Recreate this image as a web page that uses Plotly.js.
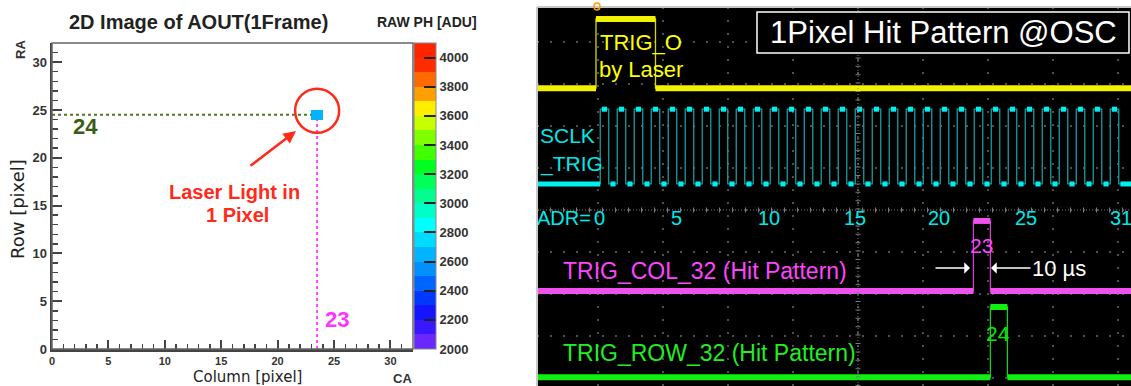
<!DOCTYPE html>
<html><head><meta charset="utf-8">
<script src="https://cdn.plot.ly/plotly-3.0.1.min.js"></script>
<style>html,body{margin:0;padding:0;background:#fff;}#chart{width:1131px;height:386px;}</style>
</head><body><div id="chart"></div>
<script>
// ================= LEFT PANEL DATA (2D image of AOUT, 1 frame) =================
const nCols = 32;
const nRows = 32;
const hitCols = [23];
const hitRows = [24];
const hitPH = [2650];
const axisTickVals = [0, 5, 10, 15, 20, 25, 30];
const phTickVals = [2000, 2200, 2400, 2600, 2800, 3000, 3200, 3400, 3600, 3800, 4000];
const phMin = 2000;
const phMax = 4100;
// palette bands (100 ADU each, 2000 -> 4100)
const bandColors = ['#6a28ff', '#3a18ff', '#1414ff', '#0038ff', '#0064ff', '#0090ff', '#00b4ff',
  '#00dcff', '#00ffff', '#00ffc8', '#00ff90', '#00ff58', '#00ff20', '#40ff00', '#80ff00', '#c8ff00',
  '#ffee00', '#ffa000', '#ff6a00', '#ff2c00', '#ff2400'];

// ================= RIGHT PANEL DATA (oscilloscope, time in µs, level in div) =================
const trigORise = [0];
const trigOFall = [35];
const sclkRise = [2.5, 12.5, 22.5, 32.5, 42.5, 52.5, 62.5, 72.5, 82.5, 92.5, 102.5, 112.5, 122.5, 132.5, 142.5, 152.5,
  162.5, 172.5, 182.5, 192.5, 202.5, 212.5, 222.5, 232.5, 242.5, 252.5, 262.5, 272.5, 282.5, 292.5, 302.5];
const sclkFall = [7.5, 17.5, 27.5, 37.5, 47.5, 57.5, 67.5, 77.5, 87.5, 97.5, 107.5, 117.5, 127.5, 137.5, 147.5, 157.5,
  167.5, 177.5, 187.5, 197.5, 207.5, 217.5, 227.5, 237.5, 247.5, 257.5, 267.5, 277.5, 287.5, 297.5, 307.5];
const colRise = [222];
const colFall = [232];
const rowRise = [232];
const rowFall = [242];
const trigOLevels = [2.9, 4.55];
const sclkLevels = [0.62, 2.4];
const colLevels = [-1.93, -0.26];
const rowLevels = [-3.98, -2.31];
const adrLabels = ['0', '5', '10', '15', '20', '25', '31'];
const adrLabelTimes = [1.8, 47.6, 101.8, 152.4, 201.8, 252.9, 308.8];
const hitColLabel = '23';
const hitRowLabel = '24';

// ================= helpers =================
const W = 1131, H = 386;
const px = x => x / W;
const py = y => 1 - y / H;
const tRange = [-34.7, 314.7];
const FONT = 'Liberation Sans, Arial, sans-serif';
const WIDEFONT = 'DejaVu Sans, Verdana, sans-serif';
const plotBottom = 349;

// heatmap grid
const z = [];
for (let r = 0; r < nRows; r++) { const row = []; for (let c = 0; c < nCols; c++) row.push(null); z.push(row); }
hitCols.forEach((c, i) => { z[hitRows[i]][c] = hitPH[i]; });

const colorscale = [];
bandColors.forEach((c, i) => { colorscale.push([i / bandColors.length, c]); colorscale.push([(i + 1) / bandColors.length, c]); });

function stepWave(rises, falls, lv) {
  const x = [tRange[0]], y = [lv[0]];
  rises.forEach((r, i) => { x.push(r, r, falls[i], falls[i]); y.push(lv[0], lv[1], lv[1], lv[0]); });
  x.push(tRange[1]); y.push(lv[0]);
  return {x, y};
}
function flats(rises, falls, lv, inset) {
  const x = [], y = [];
  let prev = tRange[0];
  rises.forEach((r, i) => {
    x.push(i === 0 ? prev : prev + inset, r - (i === 0 ? 0 : inset), null); y.push(lv[0], lv[0], null);
    x.push(r + inset, falls[i] - inset, null); y.push(lv[1], lv[1], null);
    prev = falls[i];
  });
  x.push(prev + (rises.length > 1 ? inset : 0), tRange[1]); y.push(lv[0], lv[0]);
  return {x, y};
}
function scopeTraces(rises, falls, lv, thinColor, thickColor, thickW, inset) {
  const a = stepWave(rises, falls, lv), b = flats(rises, falls, lv, inset);
  return [
    {type: 'scatter', mode: 'lines', x: a.x, y: a.y, xaxis: 'x2', yaxis: 'y2', line: {color: thinColor, width: 1.3}, hoverinfo: 'skip'},
    {type: 'scatter', mode: 'lines', x: b.x, y: b.y, xaxis: 'x2', yaxis: 'y2', line: {color: thickColor, width: thickW}, hoverinfo: 'skip'}
  ];
}

const traces = [];
// left: guide lines to the hit pixel
traces.push({type: 'scatter', mode: 'lines', x: [0, hitCols[0]], y: [hitRows[0] + 0.5, hitRows[0] + 0.5],
  line: {color: '#4a7a22', width: 2, dash: 'dot'}, hoverinfo: 'skip'});
traces.push({type: 'scatter', mode: 'lines', x: [hitCols[0] + 0.5, hitCols[0] + 0.5], y: [0, hitRows[0]],
  line: {color: '#ff44ff', width: 2, dash: 'dot'}, hoverinfo: 'skip'});
traces.push({
  type: 'heatmap', z: z, x0: 0.5, dx: 1, y0: 0.5, dy: 1, zmin: phMin, zmax: phMax, colorscale: colorscale,
  hoverinfo: 'skip', xgap: 0, ygap: 0,
  colorbar: {
    xref: 'paper', x: px(414), xanchor: 'left', xpad: 0, ypad: 0,
    yref: 'paper', y: (py(43) + py(plotBottom)) / 2, yanchor: 'middle', lenmode: 'fraction', len: py(43) - py(plotBottom),
    thicknessmode: 'pixels', thickness: 22, outlinewidth: 1, outlinecolor: '#888',
    tickmode: 'array', tickvals: phTickVals, ticks: 'inside', ticklen: 12, tickwidth: 2, tickcolor: '#222',
    tickfont: {family: FONT, size: 13, color: '#333', weight: 'bold'}
  }
});
// right: oscilloscope channels
traces.push(...scopeTraces(trigORise, trigOFall, trigOLevels, '#d8d800', '#f2f200', 6, 0));
traces.push(...scopeTraces(sclkRise, sclkFall, sclkLevels, '#1a9c9c', '#00f0f0', 5, 1));
traces.push(...scopeTraces(colRise, colFall, colLevels, '#cc44cc', '#f050f0', 6, 0));
traces.push(...scopeTraces(rowRise, rowFall, rowLevels, '#22cc22', '#10f010', 6, 0));

function ann(text, x, y, o) {
  return Object.assign({text: text, x: px(x), y: py(y), xref: 'paper', yref: 'paper', showarrow: false,
    xanchor: 'center', yanchor: 'middle', font: {family: FONT, size: 12, color: '#222'}}, o || {});
}

const annotations = [
  ann('2D Image of AOUT(1Frame)', 198, 22, {font: {family: FONT, size: 20, color: '#222', weight: 'bold'}}),
  ann('RAW PH [ADU]', 427, 22, {font: {family: FONT, size: 14, color: '#222', weight: 'bold'}}),
  ann('RA', 20, 50, {textangle: -90, font: {family: FONT, size: 13, color: '#333', weight: 'bold'}}),
  ann('CA', 402, 378, {font: {family: FONT, size: 13, color: '#333', weight: 'bold'}}),
  ann('Row [pixel]', 17, 209, {textangle: -90, font: {family: WIDEFONT, size: 18, color: '#222'}}),
  ann('Column [pixel]', 247, 387, {yanchor: 'bottom', borderpad: 0, font: {family: WIDEFONT, size: 15, color: '#222'}}),
  ann('Laser Light in', 234, 192, {font: {family: FONT, size: 20, color: '#ff2a1a', weight: 'bold'}}),
  ann('1 Pixel', 237, 215, {font: {family: FONT, size: 20, color: '#ff2a1a', weight: 'bold'}}),
  ann(hitRowLabel, 85, 126, {font: {family: FONT, size: 22, color: '#3a5e14', weight: 'bold'}}),
  ann(hitColLabel, 337, 319, {font: {family: FONT, size: 22, color: '#ff33ff', weight: 'bold'}}),
  {text: '', x: px(296), y: py(131), xref: 'paper', yref: 'paper', showarrow: true, ax: -47, ay: 36,
    arrowcolor: '#ff2a1a', arrowwidth: 2.5, arrowhead: 2, arrowsize: 1, standoff: 0},
  // oscilloscope texts
  ann('1Pixel Hit Pattern @OSC', 943, 33, {font: {family: FONT, size: 31, color: '#ffffff'}}),
  ann('TRIG_O', 598, 43, {xanchor: 'left', font: {family: FONT, size: 22, color: '#ffff00'}}),
  ann('by Laser', 597, 70, {xanchor: 'left', font: {family: FONT, size: 22, color: '#ffff00'}}),
  ann('SCLK', 538, 135, {xanchor: 'left', font: {family: FONT, size: 21, color: '#00e8e8'}}),
  ann('_TRIG', 538, 164, {xanchor: 'left', font: {family: FONT, size: 21, color: '#00e8e8'}}),
  ann('ADR=', 593, 218, {xanchor: 'right', font: {family: FONT, size: 20, color: '#00e8e8'}}),
  ann('TRIG_COL_32 (Hit Pattern)', 561, 271, {xanchor: 'left', font: {family: FONT, size: 23, color: '#ff44ff'}}),
  ann('TRIG_ROW_32 (Hit Pattern)', 561, 353, {xanchor: 'left', font: {family: FONT, size: 23, color: '#22ee22'}}),
  ann(hitColLabel, 982, 245, {font: {family: FONT, size: 21, color: '#ff44ff'}}),
  ann(hitRowLabel, 998, 333, {font: {family: FONT, size: 21, color: '#00ee00'}}),
  ann('10 µs', 1059, 268, {font: {family: FONT, size: 22, color: '#ffffff'}}),
  {text: '', x: px(970), y: py(268), xref: 'paper', yref: 'paper', showarrow: true, ax: -36, ay: 0,
    arrowcolor: '#ffffff', arrowwidth: 1.6, arrowhead: 1, arrowsize: 1.2, standoff: 0},
  {text: '', x: px(991), y: py(268), xref: 'paper', yref: 'paper', showarrow: true, ax: 41, ay: 0,
    arrowcolor: '#ffffff', arrowwidth: 1.6, arrowhead: 1, arrowsize: 1.2, standoff: 0}
];
adrLabels.forEach((lab, i) => {
  annotations.push({text: lab, x: adrLabelTimes[i], y: py(218), xref: 'x2', yref: 'paper', showarrow: false,
    xanchor: 'center', yanchor: 'middle', font: {family: FONT, size: 20, color: '#00e8e8'}});
});

const scopeTop = py(7);
const centerT = (858 - 596) / 1.7;
const shapes = [
  {type: 'rect', xref: 'paper', yref: 'paper', x0: px(537), x1: 1, y0: 0, y1: scopeTop, fillcolor: '#000', line: {width: 0}, layer: 'below'},
  // center cross of scope graticule
  {type: 'line', xref: 'paper', yref: 'y2', x0: px(537), x1: 1, y0: 0, y1: 0, line: {color: '#7a7a7a', width: 1, dash: '1px,2px'}},
  {type: 'line', xref: 'paper', yref: 'y2', x0: px(537), x1: 1, y0: 0, y1: 0, line: {color: '#7a7a7a', width: 5, dash: '1px,12px'}},
  {type: 'line', xref: 'x2', yref: 'paper', x0: centerT, x1: centerT, y0: 0, y1: scopeTop, line: {color: '#7a7a7a', width: 1, dash: '1px,2px'}},
  {type: 'line', xref: 'x2', yref: 'paper', x0: centerT, x1: centerT, y0: 0, y1: scopeTop, line: {color: '#7a7a7a', width: 5, dash: '1px,7.4px'}},
  // scope border
  {type: 'line', xref: 'paper', yref: 'paper', x0: px(537), x1: px(537), y0: 0, y1: scopeTop, line: {color: '#c8c8c8', width: 2}},
  {type: 'line', xref: 'paper', yref: 'paper', x0: px(537), x1: 1, y0: scopeTop, y1: scopeTop, line: {color: '#c8c8c8', width: 2}},
  // title box
  {type: 'rect', xref: 'paper', yref: 'paper', x0: px(757), x1: px(1129), y0: py(53), y1: py(12), fillcolor: '#000', line: {color: '#fff', width: 1.5}},
  // trigger marker
  {type: 'circle', xref: 'paper', yref: 'paper', x0: px(594), x1: px(600), y0: py(10), y1: py(3), line: {color: '#ff9900', width: 1.5}},
  // left plot frame (top/right)
  {type: 'rect', xref: 'x domain', yref: 'y domain', x0: 0, x1: 1, y0: 0, y1: 1, line: {color: '#666', width: 1.5}},
  // red circle around hit
  {type: 'circle', xref: 'x', yref: 'y', xsizemode: 'pixel', ysizemode: 'pixel', xanchor: hitCols[0] + 0.5, yanchor: hitRows[0] + 0.5,
    x0: -22, x1: 22, y0: -18, y1: 26, line: {color: '#ff2a1a', width: 2.5}}
];

const layout = {
  width: W, height: H, margin: {l: 0, r: 0, t: 0, b: 0}, showlegend: false,
  paper_bgcolor: '#ffffff', plot_bgcolor: 'rgba(0,0,0,0)',
  xaxis: {domain: [px(52), px(413)], range: [0, 32], tickmode: 'array', tickvals: axisTickVals, ticks: 'inside', ticklen: 9,
    tickwidth: 2, tickcolor: '#444', showline: true, linecolor: '#444', linewidth: 2.5, showgrid: false, zeroline: false,
    minor: {dtick: 1, tick0: 0, ticks: 'inside', ticklen: 5, tickwidth: 1.5, tickcolor: '#444', showgrid: false},
    tickfont: {family: FONT, size: 11, color: '#333', weight: 'bold'}, fixedrange: true, anchor: 'y'},
  yaxis: {domain: [py(plotBottom), py(43)], range: [0, 32], tickmode: 'array', tickvals: axisTickVals, ticks: 'inside', ticklen: 10,
    tickwidth: 2, tickcolor: '#444', showline: true, linecolor: '#444', linewidth: 2.5, showgrid: false, zeroline: false,
    minor: {dtick: 1, tick0: 0, ticks: 'inside', ticklen: 6, tickwidth: 1.5, tickcolor: '#444', showgrid: false},
    tickfont: {family: FONT, size: 13, color: '#333', weight: 'bold'}, fixedrange: true, anchor: 'x'},
  xaxis2: {domain: [px(537), 1], range: tRange, anchor: 'y2', showgrid: true, gridcolor: '#505050', gridwidth: 1.5,
    griddash: '1.5px,11.5px', tick0: centerT, dtick: 65 / 1.7, ticks: '', showticklabels: false, zeroline: false, showline: false, fixedrange: true},
  yaxis2: {domain: [0, scopeTop], range: [(210 - 386) / 42, (210 - 7) / 42], anchor: 'x2', showgrid: true, gridcolor: '#505050', gridwidth: 1.5,
    griddash: '1.5px,11.5px', tick0: 0, dtick: 1, ticks: '', showticklabels: false, zeroline: false, showline: false, fixedrange: true},
  annotations: annotations,
  shapes: shapes
};

Plotly.newPlot('chart', traces, layout, {displayModeBar: false, staticPlot: true});
</script></body></html>
